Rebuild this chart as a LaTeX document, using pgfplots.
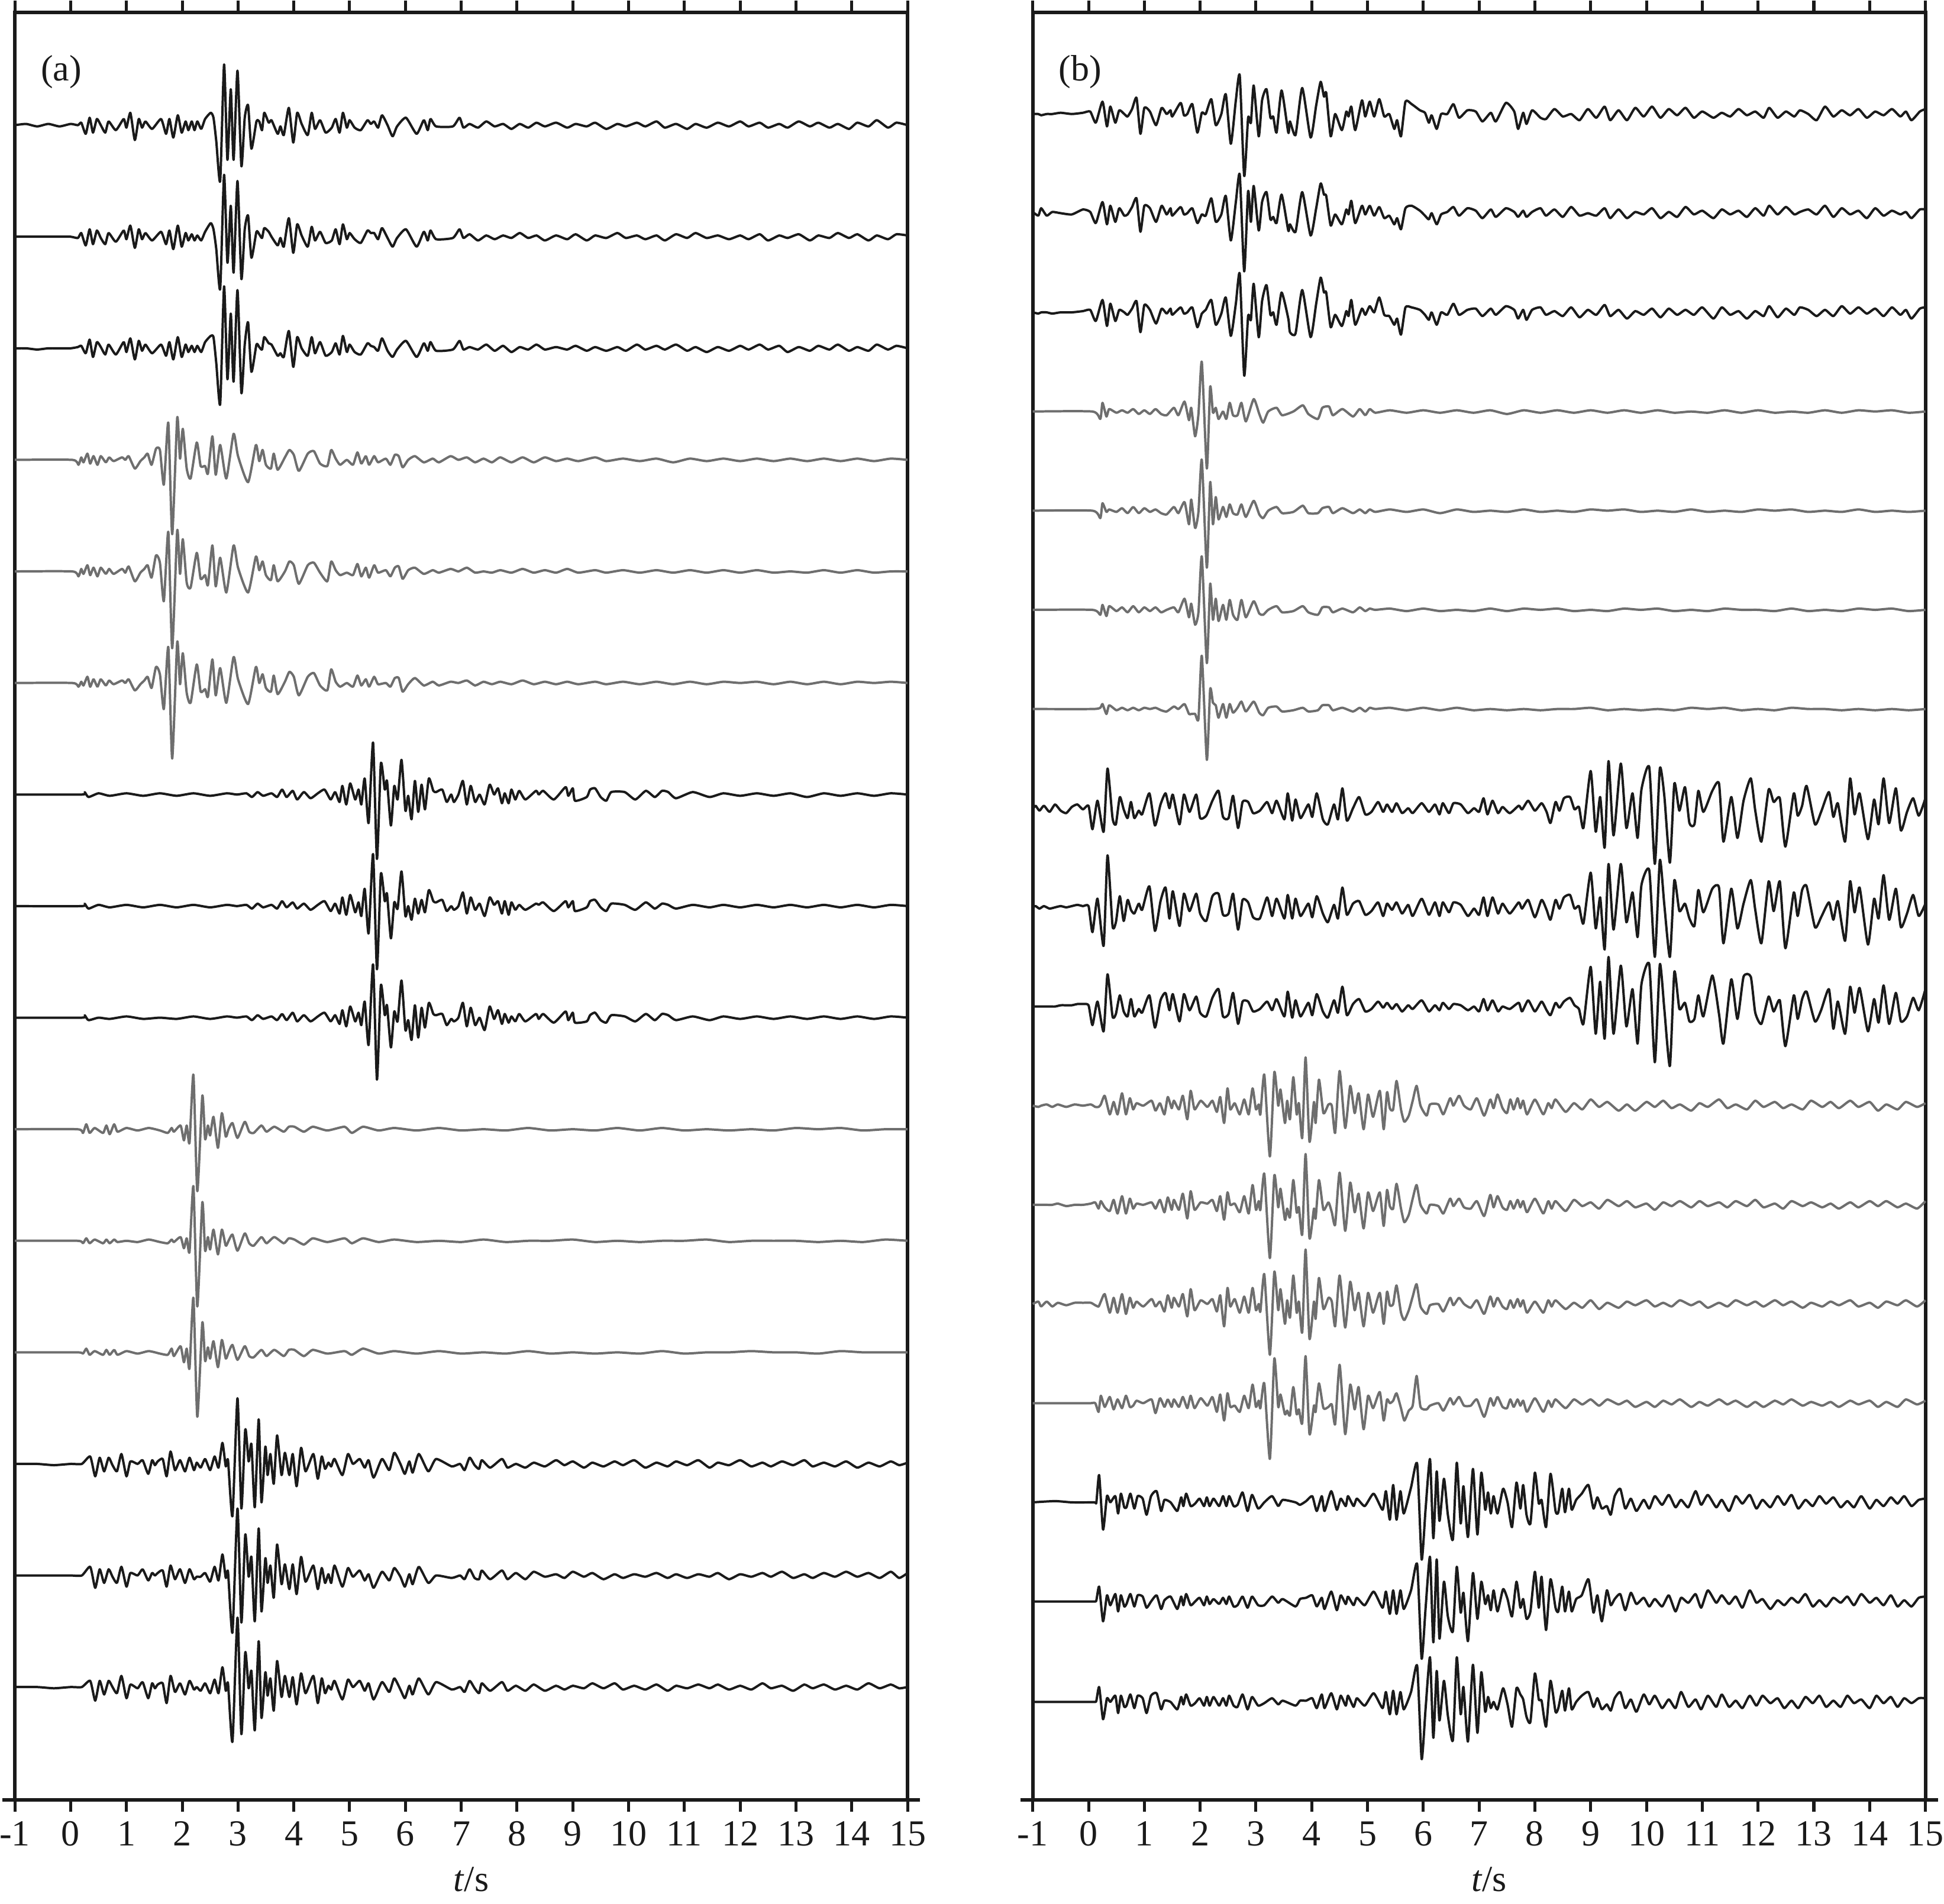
\documentclass[border=0pt]{standalone}
\usepackage{fontspec}
\setmainfont{Liberation Serif}
\usepackage{pgfplots}
\usepackage{pgfplotstable}
\pgfplotsset{compat=1.18}
\definecolor{ink}{HTML}{1A1A1A}
\definecolor{grey}{HTML}{6E6E6E}

% amplitudes in the same units as the y axis, baseline of each trace added when plotted
\pgfplotstableread{
t a b c
-1 0 0 0
-0.8 1 0 0
-0.6 -1 0 -1
-0.4 1 0 0
-0.2 -1 0 0
0 1 0 0
0.13 0 -1 1
0.19 2 3 2
0.27 -7 -7 -4
0.34 6 6 7
0.4 -6 -6 -7
0.47 5 5 5
0.54 0 -1 1
0.62 -6 -6 -5
0.68 3 3 3
0.81 -4 -4 -5
0.95 5 5 5
1 -2 -2 -3
1.07 10 9 8
1.15 -12 -9 -9
1.22 5 6 6
1.28 -2 -2 -2
1.34 3 3 3
1.46 -3 -3 -4
1.62 5 4 3
1.71 -7 -6 -6
1.77 5 5 5
1.84 -10 -10 -9
1.92 8 9 9
1.99 -6 -8 -7
2.06 3 3 3
2.11 -4 -3 -3
2.17 3 2 2
2.22 -4 -3 -3
2.27 3 1 2
2.34 -3 -3 -3
2.41 5 4 5
2.51 10 11 10
2.56 6 6 9
2.61 -13 -10 -12
2.68 -45 -42 -45
2.75 49 50 50
2.81 -28 -21 -25
2.87 29 25 28
2.92 -28 -29 -27
2.99 44 45 47
3.06 -33 -34 -36
3.12 6 6 3
3.18 16 17 21
3.24 -19 -17 -19
3.33 3 4 3
3.38 3 2 1
3.43 -4 -1 -1
3.47 10 7 9
3.55 2 4 4
3.6 4 0 3
3.71 -7 -7 -6
3.76 -1 -1 -4
3.82 -8 -8 -7
3.91 14 15 14
3.99 -14 -13 -15
4.06 10 10 9
4.14 1 1 0
4.25 -8 -8 -6
4.32 10 8 9
4.38 -3 -3 -4
4.47 4 4 5
4.57 -6 -5 -6
4.68 -2 -3 -3
4.75 5 6 4
4.82 -6 -6 -5
4.88 10 10 10
4.95 -2 -2 -3
5 4 3 3
5.09 -2 -2 -3
5.2 -4 -5 -5
5.32 4 5 4
5.38 1 3 2
5.44 3 3 1
5.51 -2 -2 -2
5.58 8 7 8
5.68 0 -1 -2
5.77 -9 -8 -7
5.85 -1 -1 -1
6.01 6 6 6
6.2 -7 -8 -7
6.33 4 4 4
6.4 -4 -3 -2
6.45 5 5 5
6.55 -1 -2 -2
6.85 -1 -1 -1
6.97 6 6 6
7.04 -2 -1 -1
7.15 1 2 1
7.3 -2 -3 -1
7.45 3 1 3
7.6 -1 -2 -2
7.75 1 1 2
7.9 -3 -1 -3
8.05 1 3 1
8.2 -2 -1 -1
8.35 2 1 3
8.5 -1 -3 -1
8.7 2 1 1
8.9 -2 -2 -1
9.05 1 2 2
9.25 -1 -3 -2
9.4 2 1 1
9.6 -3 -1 -2
9.8 1 3 1
9.95 -1 -1 -2
10.15 2 1 3
10.3 -1 -2 -1
10.5 3 1 2
10.65 -2 -3 -1
10.85 1 2 3
11.05 -3 -1 -2
11.2 1 3 1
11.4 -2 -1 -3
11.6 2 1 1
11.8 -1 -2 -2
12 3 1 2
12.15 -1 -2 -1
12.35 2 2 3
12.5 -2 -3 -1
12.7 1 1 2
12.85 -2 -1 -3
13.05 3 2 1
13.25 -1 -3 -2
13.4 2 1 2
13.6 -2 -1 -1
13.75 1 3 3
13.95 -3 -1 -2
14.1 2 2 1
14.3 -1 -3 -2
14.45 4 1 3
14.65 -2 -2 -1
14.8 2 2 2
15 0 1 0
}\LA

\pgfplotstableread{
t a b c
-1 0 0 0
0.03 0 0 0
0.14 -4 -4 -3
0.19 2 2 1
0.23 -2 -2 -2
0.3 5 5 5
0.35 -3 -3 -3
0.41 3 3 3
0.48 -4 -4 -3
0.54 3 3 3
0.63 -2 -2 -2
0.69 2 2 2
0.77 -1 -2 -1
0.92 2 2 2
0.98 0 -1 0
1.04 3 4 3
1.15 -7 -8 -6
1.25 -1 -1 -1
1.32 2 2 2
1.38 5 5 5
1.45 -4 -5 -4
1.53 9 13 13
1.6 8 7 7
1.67 -20 -24 -21
1.75 30 32 29
1.82 -60 -62 -61
1.91 34 33 33
1.96 1 -2 -1
2.01 25 26 24
2.08 -7 -9 -8
2.15 -15 -13 -16
2.26 14 15 15
2.33 -5 -6 -7
2.41 -5 -3 -5
2.46 -11 -11 -11
2.54 19 21 19
2.6 -12 -12 -10
2.68 12 11 12
2.79 -15 -17 -16
2.92 21 21 21
3 3 3 3
3.18 -18 -17 -17
3.32 12 12 13
3.38 -1 1 0
3.44 8 8 7
3.5 -4 -3 -4
3.59 -7 -7 -7
3.64 5 5 6
3.71 -8 -8 -9
3.84 2 0 1
3.92 8 8 9
4 4 5 5
4.09 -9 -10 -10
4.25 5 5 5
4.36 7 7 8
4.47 -3 -1 -2
4.6 -5 -8 -6
4.67 8 8 11
4.75 1 1 1
4.83 -4 -3 -3
4.95 0 -1 0
5.06 -4 -3 -3
5.14 6 6 6
5.21 -3 -4 -2
5.29 3 3 3
5.35 -4 -5 -3
5.44 3 5 5
5.51 -2 -1 -1
5.65 1 1 0
5.73 -4 -4 -3
5.81 4 3 4
5.88 3 4 4
5.95 -6 -6 -7
6.05 0 1 -1
6.17 3 3 4
6.33 -2 -2 -2
6.49 1 1 1
6.6 -2 -1 -2
6.81 3 2 1
6.95 0 0 0
7.1 2 3 2
7.25 -2 -1 -2
7.4 1 0 1
7.55 -2 -1 -1
7.7 2 1 1
7.9 -2 -1 -1
8.1 2 2 2
8.3 -2 -1 -1
8.5 2 1 1
8.7 -1 -1 -1
8.9 1 2 1
9.1 -1 -1 -1
9.4 2 1 1
9.6 -1 -1 -1
9.9 1 1 1
10.2 -1 -1 -1
10.5 1 1 1
10.8 -2 -1 -1
11.1 1 1 1
11.4 -1 -1 -1
11.7 1 1 1
12 -1 -1 0
12.3 1 1 1
12.6 -1 -1 -1
12.9 1 0 1
13.2 -1 -1 -1
13.5 1 1 1
13.8 -1 -1 -1
14.1 1 1 1
14.4 -1 -1 0
14.7 1 0 1
15 0 0 0
}\LB

\pgfplotstableread{
t a b c
-1 0 0 0
0.2 0 0 0
0.25 2 2 2
0.32 -2 -2 -2
0.5 1 1 0
0.7 -1 -1 -1
1 1 1 1
1.3 -1 -1 -1
1.6 1 1 0
1.9 -1 -1 -1
2.2 1 1 1
2.5 -1 -1 -1
2.8 1 1 1
2.98 0 0 0
3.15 1 1 1
3.25 -2 -2 -2
3.35 2 2 2
3.45 -1 -1 -1
3.6 1 1 1
3.7 -2 -2 -2
3.79 4 4 3
3.87 -2 -1 -2
3.98 3 3 4
4.06 -4 -2 -3
4.18 2 2 2
4.3 -3 -3 -3
4.43 1 1 1
4.55 4 4 4
4.66 -4 -4 -3
4.74 2 2 2
4.82 -6 -6 -5
4.87 7 7 6
4.94 -8 -7 -7
5.01 9 9 9
5.1 -4 -5 -3
5.16 4 3 4
5.21 -8 -8 -6
5.27 13 14 13
5.34 -23 -22 -22
5.42 42 42 43
5.49 -52 -51 -50
5.56 25 26 26
5.63 4 4 2
5.67 11 10 10
5.74 -25 -26 -24
5.8 7 3 5
5.86 -4 -2 -3
5.93 28 28 30
6 -13 -8 -10
6.05 -1 0 -2
6.11 -20 -11 -18
6.17 11 6 10
6.23 -14 -6 -16
6.29 8 5 8
6.35 -12 -5 -8
6.42 13 13 12
6.5 3 4 3
6.55 2 3 2
6.66 4 5 3
6.74 -6 -4 -6
6.82 0 0 -1
6.87 -6 -3 -3
6.95 0 0 0
7.03 11 11 12
7.1 -8 -6 -7
7.17 7 7 8
7.25 -6 -3 -6
7.33 0 2 0
7.42 -8 -8 -10
7.51 8 7 9
7.59 0 1 -1
7.66 5 4 6
7.73 -7 -6 -5
7.78 1 4 3
7.85 -7 -7 -4
7.9 4 3 1
7.97 -4 -3 -3
8.04 3 1 3
8.15 -4 -3 -3
8.34 3 2 3
8.39 0 1 -1
8.47 3 3 3
8.66 -4 -4 -4
8.87 6 4 5
8.92 -1 -1 -2
9 5 4 4
9.04 -5 -4 -4
9.25 -2 -1 -3
9.31 4 4 2
9.4 5 5 4
9.5 -2 -1 -2
9.6 -5 -4 -4
9.69 2 2 2
9.93 2 1 1
10.12 -4 -3 -3
10.31 3 3 3
10.47 -2 -2 -2
10.6 3 2 3
10.71 2 1 2
10.85 -3 -2 -2
11.15 2 1 1
11.45 -2 -1 -2
11.7 1 1 1
12 -1 -1 -1
12.3 1 1 1
12.6 -1 -1 -1
12.9 1 1 1
13.2 -2 -1 -1
13.5 1 1 1
13.8 -1 -1 -1
14.1 1 1 1
14.4 -1 -1 -1
14.7 1 1 1
15 0 0 0
}\LC

\pgfplotstableread{
t a b c
-1 0 0 0
0.12 0 0 0
0.22 -3 -2 -1
0.28 4 2 3
0.34 -3 -2 -2
0.43 1 1 1
0.58 -3 -2 -2
0.64 3 1 2
0.7 -4 -2 -2
0.78 4 1 2
0.84 -2 -1 -2
1 1 0 1
1.2 -1 -1 -1
1.4 1 1 1
1.6 -1 -1 -1
1.74 -3 -2 -2
1.81 1 1 3
1.85 -2 -1 -3
1.97 3 3 5
2.03 -9 -6 -8
2.08 3 2 3
2.13 -11 -9 -13
2.2 44 44 44
2.27 -50 -53 -52
2.36 27 31 24
2.41 -8 -8 -7
2.46 3 3 4
2.5 -5 -7 -5
2.56 10 9 9
2.64 -15 -11 -12
2.71 13 9 10
2.78 -6 -4 -5
2.83 0 0 0
2.9 5 5 6
2.99 -7 -8 -6
3.12 6 6 5
3.2 -2 -2 -3
3.28 -3 -4 -4
3.42 3 3 2
3.51 -2 -2 -3
3.65 2 3 2
3.82 -2 -2 -3
3.91 2 2 2
4.01 2 1 2
4.18 -2 -3 -3
4.34 2 2 2
4.6 -1 -1 -1
4.91 2 2 1
5.04 -3 -2 -2
5.24 2 2 3
5.52 -1 -1 -1
5.8 1 1 1
6.2 -1 -1 -1
6.6 1 0 1
7 -1 -1 -1
7.4 0 1 0
7.8 -1 -1 -1
8.2 1 0 1
8.6 -1 0 -1
9 0 1 0
9.4 -1 -1 -1
9.8 1 0 0
10.2 -1 -1 -1
10.6 1 0 1
11 -1 0 -1
11.4 0 1 0
11.8 -1 -1 0
12.2 0 0 1
12.6 -1 0 0
13 1 0 0
13.4 0 -1 -1
13.8 1 0 1
14.2 -1 -1 0
14.6 0 1 0
15 0 0 0
}\LD

\pgfplotstableread{
t a b c
-1 0 0 0
-0.6 0 0 0
-0.3 -1 0 -1
0 0 0 0
0.2 0 0 0
0.35 6 7 5
0.44 -10 -10 -11
0.52 5 5 5
0.6 -6 -6 -6
0.68 5 5 5
0.75 -1 -1 0
0.83 -6 -6 -5
0.91 8 7 9
1 -10 -9 -9
1.07 2 2 2
1.2 0 0 -1
1.29 3 5 4
1.39 -8 -4 -9
1.46 3 2 3
1.51 -1 0 -1
1.56 2 2 2
1.65 4 4 3
1.72 -10 -9 -13
1.79 10 8 9
1.87 -5 -3 -4
1.96 3 5 3
2.05 -6 -6 -6
2.13 5 5 5
2.21 -5 -3 -2
2.26 1 -1 0
2.33 -3 -1 -3
2.41 4 2 3
2.5 -5 -5 -5
2.58 6 7 6
2.65 -3 -4 -5
2.72 17 17 16
2.78 -2 -2 -3
2.82 3 3 3
2.9 -42 -46 -44
2.99 53 54 56
3.06 -36 -38 -38
3.13 28 33 28
3.19 2 -1 -1
3.24 16 15 13
3.3 -35 -37 -35
3.37 36 38 37
3.42 -31 -29 -25
3.49 14 14 12
3.53 -9 -6 -7
3.58 8 8 7
3.64 -16 -18 -19
3.7 23 25 21
3.78 -9 -7 -8
3.84 9 9 9
3.92 -9 -11 -8
3.98 8 9 8
4.05 -18 -15 -14
4.13 13 15 11
4.21 -6 -5 -5
4.35 8 8 9
4.43 -12 -11 -13
4.5 6 6 7
4.56 -4 -6 -5
4.62 1 1 1
4.67 -2 -6 -2
4.73 4 8 5
4.87 -9 -9 -10
4.97 8 6 6
5.06 0 -1 0
5.18 4 4 5
5.27 -3 -4 -3
5.34 3 1 3
5.43 -11 -10 -10
5.58 4 3 4
5.71 -5 -4 -4
5.8 9 6 7
5.91 0 -1 -2
5.99 -8 -9 -9
6.07 2 1 1
6.13 -7 -7 -6
6.24 8 7 7
6.41 -6 -6 -6
6.55 4 0 4
6.83 -2 -2 -2
6.98 0 0 0
7.06 -5 -3 -4
7.15 5 5 5
7.24 -1 -2 -1
7.32 -4 -3 -5
7.37 3 4 3
7.52 -3 -3 -3
7.73 4 4 4
7.83 -3 -3 -3
7.98 0 2 1
8.15 -3 -3 -3
8.3 1 3 2
8.5 -2 -1 -3
8.7 3 1 1
8.85 -1 -2 -2
9 2 3 1
9.2 -3 -1 -1
9.35 1 2 3
9.55 -2 -3 -1
9.75 2 1 3
9.9 -1 -2 -2
10.1 3 1 1
10.3 -3 -1 -2
10.5 1 2 2
10.7 -2 -2 -3
10.85 2 1 1
11.05 -1 -2 -1
11.25 3 1 2
11.45 -3 -1 -1
11.6 1 2 2
11.8 -1 -3 -2
12 3 1 1
12.2 -2 -1 -2
12.4 1 2 3
12.55 -2 -1 -1
12.75 2 3 1
12.95 -1 -2 -3
13.15 3 1 2
13.3 -2 -2 -1
13.5 1 2 2
13.7 -2 -1 -2
13.9 2 3 1
14.1 -3 -1 -2
14.3 1 2 3
14.5 -2 -2 -1
14.7 2 3 2
14.85 -1 -2 -1
15 1 2 0
}\LE

\pgfplotstableread{
t a b c
-1 0 1 0
-0.9 0 -2 -1
-0.85 -1 4 0
-0.75 0 -2 0
-0.65 0 1 -1
-0.5 1 0 0
-0.3 0 -1 0
-0.1 1 3 1
0.03 2 1 2
0.13 -7 -8 -7
0.25 10 9 10
0.33 -10 -9 -11
0.39 6 6 7
0.48 -7 -7 -7
0.55 3 4 2
0.64 0 -2 0
0.7 -2 -1 -2
0.78 4 5 3
0.86 13 12 9
0.93 -16 -15 -16
1 5 6 6
1.1 2 4 2
1.21 -9 -7 -9
1.31 5 6 3
1.4 0 -1 -1
1.47 3 4 3
1.5 -2 -2 -2
1.65 9 5 4
1.71 -1 -1 -1
1.77 0 0 0
1.86 8 4 4
1.95 -15 -8 -12
2.03 1 -1 -1
2.1 0 -2 2
2.2 12 12 10
2.28 -9 -7 -10
2.38 0 -1 -1
2.46 16 14 12
2.55 -24 -22 -19
2.64 11 9 7
2.71 31 31 31
2.79 -50 -47 -51
2.86 -3 18 -3
2.91 -7 -7 -6
2.96 23 22 23
3.05 -18 -14 -20
3.11 11 9 9
3.19 20 17 22
3.26 -3 -5 -2
3.31 -2 -3 0
3.37 -15 -8 -10
3.46 19 15 16
3.58 -15 -14 -5
3.61 -6 -9 -16
3.71 -17 -15 -17
3.83 21 17 18
3.98 -19 -18 -20
4.08 7 4 7
4.16 26 24 28
4.22 14 15 16
4.26 17 14 16
4.34 -18 -10 -12
4.42 0 -1 -2
4.54 -13 -9 -11
4.62 2 3 1
4.66 -2 -1 -3
4.71 6 10 10
4.78 -13 -8 -10
4.9 11 6 3
4.96 -2 -1 -2
5.04 10 6 5
5.12 -2 -2 0
5.21 12 5 12
5.3 -2 -4 -2
5.39 0 -2 -3
5.48 -12 -9 -10
5.53 -5 -4 -5
5.6 -18 -13 -18
5.68 10 4 4
5.79 8 6 4
5.94 3 2 2
6.03 1 -2 -2
6.1 -7 -5 -6
6.15 -1 0 0
6.24 -12 -9 -10
6.32 0 -1 0
6.43 0 1 -2
6.54 8 5 7
6.64 -3 -2 -2
6.79 3 4 2
6.94 2 2 3
7.06 -6 -4 -3
7.21 1 3 3
7.3 -6 -3 -2
7.48 9 4 5
7.63 2 1 2
7.7 -12 -3 -5
7.79 1 2 2
7.85 -8 -3 -6
7.95 3 1 2
8.1 -3 4 4
8.2 -4 -2 -2
8.35 4 3 1
8.5 -2 -3 -3
8.65 0 5 4
8.8 -5 -2 -4
8.95 4 0 2
9.1 -3 -2 -2
9.25 6 4 6
9.35 -5 -4 -3
9.5 3 3 2
9.65 -5 -4 -5
9.8 5 1 1
9.95 -2 -1 -2
10.1 6 4 3
10.25 -3 -4 -4
10.4 4 1 3
10.55 -1 -3 -2
10.7 5 5 2
10.85 -3 -1 -2
11 2 2 4
11.2 -3 -4 -5
11.35 1 3 4
11.5 -2 -1 -2
11.65 4 2 1
11.8 -1 -3 -5
11.95 2 4 1
12.1 -3 -2 -3
12.2 5 6 5
12.35 -3 -1 -4
12.5 2 5 3
12.65 -2 -1 -2
12.75 3 1 4
12.9 0 3 2
13.05 -5 -1 -3
13.2 6 6 2
13.35 -2 -3 -3
13.5 3 4 5
13.65 -1 -1 -1
13.8 4 2 4
13.95 -3 -4 -1
14.1 2 4 3
14.25 -1 -2 -3
14.4 4 2 4
14.55 -2 -1 -2
14.65 2 1 2
14.75 -5 -4 -5
14.9 2 3 3
15 4 3 4
}\RA

\pgfplotstableread{
t a b c d
-1 0 0 0 0
0.07 0 0 0 0
0.21 -6 -6 -4 1
0.25 7 6 4 4
0.32 -4 -1 -5 -4
0.37 2 1 3 3
0.5 -1 -1 -1 -1
0.6 1 2 2 1
0.7 -1 -2 -2 -1
0.8 2 3 3 1
0.9 -2 -2 -2 -1
1 1 2 2 1
1.1 -2 -1 -1 0
1.2 2 1 2 1
1.3 -2 -2 -2 -1
1.4 -3 -3 0 -2
1.53 3 3 2 2
1.61 -3 -2 -2 0
1.72 8 7 9 4
1.8 -7 -11 -6 -4
1.84 3 9 5 -4
1.91 -20 -14 -12 -4
1.97 -2 -1 -2 -8
2.03 40 41 43 43
2.12 -46 -46 -43 -41
2.18 20 23 21 16
2.23 -1 -11 -8 5
2.28 3 11 9 3
2.33 -6 -7 -9 -7
2.41 0 3 4 4
2.47 -6 -5 -8 -7
2.53 7 5 8 4
2.59 -3 -2 -4 -3
2.67 -3 -3 -8 1
2.74 7 5 8 6
2.82 -8 -5 -6 -2
2.96 10 8 7 6
3.06 -2 -3 -3 -3
3.13 -9 -6 -4 -5
3.22 0 0 0 1
3.37 3 3 3 2
3.47 -3 -2 -2 -2
3.67 0 -1 -1 -1
3.84 5 4 3 1
3.94 -2 -2 -2 -2
4.11 -6 -2 -4 -1
4.19 3 2 2 3
4.31 4 3 2 3
4.38 -3 -2 -2 -1
4.55 2 2 1 1
4.74 -4 -2 -2 -2
4.86 2 1 2 1
4.96 -3 -2 -1 -2
5.04 2 1 1 1
5.14 -1 -1 0 0
5.4 1 1 1 1
5.7 -1 -1 -1 -1
6 1 1 1 1
6.3 -1 -2 -1 -1
6.6 1 1 0 1
6.9 -1 -1 -1 -1
7.2 1 0 1 0
7.5 -2 -1 -1 -1
7.8 1 1 1 0
8.1 -1 -1 0 -1
8.4 1 0 1 0
8.7 -1 -1 -1 0
9 1 1 0 1
9.3 -1 0 -1 -1
9.6 1 1 1 0
9.9 -1 -1 0 -1
10.2 1 0 1 0
10.5 -1 -1 -1 -1
10.8 0 1 0 1
11.1 -1 -1 -1 0
11.4 1 0 1 1
11.7 -1 -1 0 -1
12 1 1 0 0
12.3 -1 0 -1 -1
12.6 0 1 1 1
12.9 -1 -1 -1 0
13.2 1 0 0 0
13.5 -1 -1 -1 -1
13.8 1 1 1 0
14.1 0 -1 0 -1
14.4 1 0 1 0
14.7 -1 -1 -1 -1
15 0 0 0 0
}\RB

\pgfplotstableread{
t a b c
-1 -1 0 0
-0.95 2 1 0
-0.88 -2 -1 0
-0.8 2 1 0
-0.7 -3 -1 0
-0.6 3 0 0
-0.5 -2 1 1
-0.4 -4 0 1
-0.3 1 1 1
-0.2 3 2 2
-0.1 -1 1 2
0 2 1 1
0.07 -17 -20 -15
0.16 6 7 4
0.27 -19 -31 -20
0.34 32 42 26
0.43 -8 -15 -8
0.49 -13 -12 -6
0.56 9 9 9
0.63 -1 -11 -4
0.7 -8 6 -8
0.76 5 -2 6
0.82 -8 -5 -8
0.9 -2 3 -2
0.96 -5 -2 -5
1.09 12 17 9
1.19 -14 -19 -17
1.29 3 5 5
1.38 12 16 11
1.45 0 -9 -3
1.51 11 13 10
1.63 -13 -15 -12
1.71 11 11 10
1.81 -3 -3 -3
1.93 11 11 8
2 -8 -5 -5
2.11 -6 -11 -8
2.22 6 9 7
2.33 14 11 14
2.41 -7 -6 -8
2.51 -8 -5 -6
2.59 10 11 11
2.68 -16 -18 -14
2.76 5 6 4
2.86 5 4 4
2.95 -4 -8 -4
3.07 -2 -9 -2
3.2 5 8 4
3.29 -4 -7 -3
3.37 6 7 6
3.51 -9 -9 -8
3.57 12 10 12
3.65 -10 -9 -9
3.71 7 7 5
3.8 -8 -7 -8
3.94 3 3 3
4.01 -7 -8 -7
4.09 12 9 10
4.2 -9 -5 -4
4.29 -13 -12 -9
4.4 3 2 5
4.47 -9 -9 -5
4.55 16 16 16
4.63 -10 -6 -7
4.74 0 3 2
4.85 9 5 6
4.96 -5 -6 -4
5.07 -3 -3 -2
5.19 5 4 4
5.28 -3 -7 -1
5.35 3 3 3
5.44 -3 -2 -2
5.52 4 4 2
5.62 -4 -5 -4
5.73 0 2 1
5.81 -4 -7 -2
5.97 4 7 5
6.1 -3 -6 -4
6.21 3 4 1
6.29 -5 -7 -3
6.35 4 4 3
6.46 -4 -4 -2
6.54 4 4 2
6.67 3 2 1
6.8 -4 -7 -3
6.91 0 -1 0
7 -3 -6 -4
7.08 8 8 6
7.15 -5 -7 -3
7.24 6 8 5
7.34 -4 -5 -4
7.42 1 3 0
7.55 -4 -5 -2
7.71 2 4 3
7.77 -1 -1 -4
7.88 6 6 5
8 -2 -8 -4
8.12 4 6 4
8.21 -3 -2 -3
8.28 -12 -10 -7
8.37 5 6 3
8.44 -2 -1 -1
8.52 8 8 4
8.63 9 10 7
8.71 -1 -1 1
8.79 1 1 -2
8.87 -16 -13 -14
9 30 28 32
9.09 -19 -17 -22
9.17 9 8 20
9.25 -32 -34 -26
9.32 38 35 40
9.41 -22 -18 -22
9.54 36 35 33
9.64 -16 -12 -16
9.75 12 12 14
9.84 -24 -24 -30
9.91 15 18 18
10.05 33 30 34
10.15 -45 -40 -45
10.24 32 38 34
10.32 10 2 -2
10.42 -44 -40 -48
10.5 20 22 28
10.59 -2 -3 -2
10.69 17 3 3
10.77 -12 -9 -12
10.86 -13 -15 -10
10.93 14 14 9
11.02 -3 -4 -8
11.18 14 15 25
11.3 20 16 -6
11.38 -27 -29 -30
11.52 9 15 22
11.63 -24 -17 -10
11.74 6 3 24
11.87 24 22 24
11.95 -2 -2 -5
12.06 -27 -29 -14
12.19 15 21 8
12.28 5 -3 -4
12.39 8 21 5
12.49 -31 -33 -32
12.64 12 12 9
12.71 -6 -7 -10
12.79 2 14 6
12.87 18 17 12
13.02 -13 -16 -12
13.13 -3 -8 -3
13.27 13 4 14
13.35 -7 -10 -18
13.43 4 5 4
13.56 -27 -27 -22
13.65 24 21 16
13.73 -5 -4 -5
13.82 12 16 15
13.97 -25 -30 -20
14.08 7 7 6
14.16 -13 -9 -13
14.25 24 26 17
14.35 -12 -10 -14
14.47 16 15 11
14.56 -18 -16 -12
14.67 -3 -5 -8
14.78 8 10 7
14.88 -6 -7 -3
15 8 3 14
}\RC

\pgfplotstableread{
t a b c d
-1 0 0 0 0
-0.9 -1 0 2 0
-0.85 0 0 -2 0
-0.75 1 0 2 0
-0.65 -1 0 -2 0
-0.55 1 1 1 0
-0.4 -1 -1 -1 0
-0.25 1 0 1 0
-0.1 0 0 1 0
0.04 1 1 1 0
0.12 -1 2 -1 0
0.18 -1 -3 -2 -7
0.22 1 3 2 6
0.29 8 -2 8 -3
0.38 -7 -5 -7 5
0.45 3 4 5 -5
0.52 -7 -7 -7 3
0.6 10 7 8 -4
0.67 -7 -7 -8 6
0.74 6 5 5 -3
0.8 -3 -3 -3 -2
0.86 2 1 2 2
0.98 0 0 -2 0
1.13 4 2 4 3
1.2 -4 -3 -2 -8
1.28 2 4 2 4
1.36 -7 -6 -6 -3
1.42 7 6 7 3
1.49 -2 -4 -3 -3
1.53 4 4 5 3
1.62 -3 -4 -2 -3
1.69 8 9 8 5
1.77 -11 -11 -10 -4
1.83 12 11 12 6
1.9 -3 -4 -5 -4
2.01 4 2 3 4
2.13 -1 1 0 -2
2.22 4 4 4 5
2.3 -5 -5 -6 -7
2.36 7 7 7 7
2.43 -14 -12 -18 -14
2.49 14 10 13 8
2.54 -3 0 -2 -3
2.62 2 1 4 -2
2.71 -7 -6 -7 -7
2.79 5 7 6 6
2.87 -7 -7 -7 -4
2.94 14 16 13 15
3 -3 -4 -5 -3
3.05 1 3 0 2
3.08 -7 -4 -6 -4
3.15 25 25 24 16
3.25 -41 -43 -41 -45
3.33 27 24 26 36
3.4 0 -2 -5 -3
3.44 13 13 12 7
3.52 -14 -12 -16 -9
3.56 4 -3 3 -6
3.61 -11 -10 -11 -10
3.67 23 20 23 13
3.73 -7 -6 -7 -9
3.77 2 -2 2 -5
3.83 -26 -24 -23 -16
3.89 39 41 44 38
3.96 -29 -27 -28 -25
4.04 3 -3 2 -2
4.07 -14 -11 -12 -7
4.13 21 20 21 16
4.21 -6 -4 -4 -4
4.3 1 2 5 -3
4.36 0 -6 2 -1
4.42 -22 -16 -18 -17
4.5 28 26 23 31
4.6 -18 -21 -19 -25
4.69 16 18 18 15
4.77 -6 -6 -5 -5
4.84 10 9 9 13
4.93 -19 -19 -18 -21
5.01 9 10 9 6
5.1 -9 -5 -7 -4
5.22 12 10 9 9
5.29 -19 -17 -16 -14
5.35 11 12 10 3
5.4 -2 -1 -1 0
5.46 -3 -3 0 2
5.52 20 17 15 8
5.6 -3 -3 -7 -4
5.66 -13 -14 -13 -14
5.74 -8 -8 -5 -6
5.81 4 5 6 -2
5.88 16 16 16 22
5.95 0 0 -2 -3
6.06 -8 -7 -8 -5
6.12 1 0 -1 -2
6.27 1 -1 0 0
6.36 -7 -7 -6 -6
6.48 6 5 5 4
6.54 0 -1 -1 -1
6.64 8 5 5 5
6.73 0 -2 0 -2
6.85 -3 -3 -3 -2
6.96 6 3 3 3
7.09 -8 -9 -8 -11
7.2 5 8 6 4
7.26 -2 -2 -2 -2
7.33 9 7 5 5
7.42 -2 -2 -2 -3
7.5 -6 -4 -4 -4
7.56 5 3 3 3
7.62 -3 -3 -3 -3
7.69 6 4 4 3
7.74 -2 -2 -2 -2
7.79 4 3 3 2
7.86 -7 -6 -7 -7
8 5 5 2 4
8.15 -7 -7 -7 -7
8.24 2 3 3 2
8.3 -2 -3 -2 -3
8.37 5 3 3 3
8.55 -5 -5 -4 -4
8.7 2 4 1 3
8.85 -3 -1 -3 -1
9 5 2 3 3
9.15 -1 -3 -4 -2
9.3 3 4 1 3
9.5 -4 -1 -3 -1
9.65 1 3 2 2
9.8 -4 -2 -1 -3
10 3 1 3 1
10.15 -1 -4 -2 -3
10.3 4 2 1 2
10.45 -2 -1 -2 -1
10.6 1 3 3 3
10.8 -4 -2 -1 -3
10.95 2 3 2 1
11.1 -1 -1 -3 -2
11.3 5 2 1 3
11.45 -2 -2 -2 -1
11.6 1 3 3 2
11.8 -3 -1 -1 -3
11.95 4 4 2 1
12.1 -1 -2 -2 -3
12.3 3 1 3 2
12.45 -2 -3 -1 -1
12.6 1 3 2 3
12.8 -3 -1 -3 -2
12.95 4 2 1 1
13.15 -1 -2 -2 -2
13.3 3 1 2 1
13.45 -2 -3 -1 -3
13.65 4 2 3 2
13.8 -1 -2 -2 -1
14 3 3 1 2
14.15 -4 -1 -3 -3
14.3 1 3 2 1
14.5 -3 -2 -1 -3
14.65 3 1 3 3
14.85 -1 -3 -2 -1
15 2 3 3 2
}\RD

\pgfplotstableread{
t a b c
-1 0 0 0
-0.6 1 0 0
-0.3 0 0 0
0.1 0 0 0
0.14 0 1 1
0.19 22 12 12
0.26 -22 -16 -14
0.33 5 5 3
0.39 0 -3 0
0.48 5 6 5
0.53 -9 -8 -9
0.58 7 5 5
0.64 -4 -4 -4
0.68 -4 -2 -3
0.75 7 6 6
0.82 -5 -4 -5
0.88 5 5 5
0.97 3 4 3
1.04 -10 -5 -9
1.12 5 0 5
1.22 9 5 7
1.3 -7 -6 -6
1.36 2 1 1
1.47 0 4 0
1.59 -7 -6 -6
1.66 4 4 4
1.7 -3 -3 -2
1.75 7 6 6
1.83 -3 -3 -3
1.91 -1 0 -1
1.99 3 3 3
2.07 -3 -3 -3
2.12 4 4 4
2.17 -3 -2 -3
2.24 3 2 4
2.34 -3 -2 -3
2.41 5 3 3
2.47 -3 -2 -3
2.52 5 4 5
2.6 -3 -4 -3
2.67 -2 -3 -4
2.76 8 4 6
2.85 -7 -5 -6
2.93 6 4 4
3.04 -5 -3 -3
3.15 0 -3 -1
3.29 5 4 3
3.4 -3 -1 -2
3.48 2 2 1
3.71 0 -4 -3
3.79 -2 2 1
3.9 1 3 1
4.01 5 5 3
4.09 -7 -4 -5
4.18 5 3 6
4.23 -7 -6 -5
4.35 9 8 7
4.45 -6 -7 -6
4.52 3 5 5
4.61 -3 -2 -3
4.65 5 4 5
4.75 -3 -3 -4
4.81 3 3 3
4.95 -3 -3 -3
5.11 7 8 7
5.27 -6 -5 -5
5.33 9 8 8
5.4 -14 -10 -10
5.46 14 9 9
5.52 -14 -10 -10
5.59 9 9 8
5.65 -9 -6 -6
5.78 12 9 8
5.89 31 30 29
5.97 -46 -46 -46
6.04 -6 -6 -6
6.12 35 36 36
6.18 -29 -33 -29
6.24 25 34 25
6.29 -15 -30 -15
6.37 19 16 17
6.44 -10 -12 -11
6.53 -30 -24 -31
6.6 32 28 36
6.67 -17 -9 -10
6.72 13 7 12
6.8 -28 -32 -32
6.89 27 23 30
6.97 -26 -14 -25
7.04 24 16 24
7.11 -6 -2 -8
7.16 8 5 4
7.21 -9 -7 -5
7.26 5 9 0
7.33 -9 -8 -6
7.43 11 10 11
7.51 0 2 -2
7.59 -20 -12 -20
7.67 16 16 11
7.74 -5 -5 6
7.79 14 2 2
7.85 -10 -14 -12
7.92 -17 -8 -16
8 24 24 23
8.07 -1 -5 2
8.12 2 20 1
8.2 -20 -23 -20
8.28 23 18 17
8.37 -7 -5 -8
8.42 -8 -8 -5
8.49 11 12 9
8.54 -8 -8 -7
8.61 11 8 11
8.66 -6 -8 -6
8.74 2 2 0
8.84 7 5 5
8.96 14 18 8
9.05 -5 -9 -4
9.12 4 5 3
9.2 -5 -16 -6
9.29 -3 9 -2
9.36 -10 -3 -7
9.43 5 2 3
9.53 11 6 8
9.62 -5 -7 -5
9.72 3 7 2
9.82 -7 -2 -8
9.95 2 3 6
10.05 -5 -4 -2
10.15 5 2 5
10.28 -2 -4 -5
10.4 6 5 2
10.52 -4 -8 -5
10.62 2 3 8
10.75 -4 -1 -4
10.88 9 6 2
10.98 -2 -5 -6
11.1 6 9 5
11.25 -4 -1 -4
11.35 2 5 6
11.48 -7 -2 -4
11.6 5 4 1
11.72 -1 -5 -5
11.85 6 9 5
11.97 -5 -1 -3
12.08 2 2 5
12.22 -4 -6 -1
12.35 5 1 3
12.47 -2 -3 -5
12.6 6 3 1
12.72 -5 -1 -5
12.85 2 6 4
12.98 -3 -4 -1
13.1 5 1 5
13.22 -1 -4 -4
13.35 4 3 1
13.48 -4 -1 -4
13.6 1 4 5
13.72 -4 -3 -1
13.85 5 6 2
14 -5 -1 -5
14.12 2 3 5
14.25 -3 -3 -1
14.38 4 5 4
14.5 -1 -4 -4
14.62 5 1 3
14.75 -3 -4 -1
14.88 2 3 3
15 3 4 3
}\RE

\pgfplotsset{
  wave/.style={
    scale only axis, width=360pt, height=721pt, clip=false,
    xmin=-1, xmax=15, ymin=1, ymax=1443,
    xtick={-1,0,...,15},
    xticklabels={-1,0,1,2,3,4,5,6,7,8,9,10,11,12,13,14,15},
    ytick=\empty,
    tick align=outside, xtick pos=both, major tick length=4.75pt,
    x tick label style={font=\fontsize{14.8}{15}\selectfont, text=ink, yshift=-0.5pt},
    every tick/.style={ink, line width=1.2pt},
    axis line style={ink, line width=1.4pt},
    tick label style={/pgf/number format/assume math mode=true},
  },
  blk/.style={no markers, smooth, tension=0.35, ink, line width=0.95pt, line join=round},
  gry/.style={no markers, smooth, tension=0.35, grey, line width=0.95pt, line join=round},
}
\newcommand{\trace}[4]{\addplot[#1] table[x=t, y expr=\thisrow{#3}+#4] {#2};}
\newcommand{\panelbits}[1]{%
  \draw[ink, line width=1.4pt] (rel axis cs:-0.0139,0) -- (rel axis cs:1.0139,0);
  \node[anchor=base, font=\fontsize{14.8}{15}\selectfont, text=ink] at (axis description cs:0.5,0) [xshift=4pt, yshift=-37pt] {\textit{t}/s};
  \node[anchor=west, font=\fontsize{14.8}{15}\selectfont, text=ink] at (axis description cs:0,1) [xshift=7pt, yshift=-24pt] {#1};
}

\begin{document}
\begin{tikzpicture}
\useasboundingbox (-6pt,-42pt) rectangle (778pt,726pt);
\begin{axis}[wave, at={(0pt,0pt)}, anchor=south west]
\trace{blk}{\LA}{a}{1352}
\trace{blk}{\LA}{b}{1262}
\trace{blk}{\LA}{c}{1172}
\trace{gry}{\LB}{a}{1082}
\trace{gry}{\LB}{b}{992}
\trace{gry}{\LB}{c}{902}
\trace{blk}{\LC}{a}{812}
\trace{blk}{\LC}{b}{722}
\trace{blk}{\LC}{c}{632}
\trace{gry}{\LD}{a}{542}
\trace{gry}{\LD}{b}{452}
\trace{gry}{\LD}{c}{362}
\trace{blk}{\LE}{a}{272}
\trace{blk}{\LE}{b}{182}
\trace{blk}{\LE}{c}{92}
\panelbits{(a)}
\end{axis}
\begin{axis}[wave, at={(410.5pt,0pt)}, anchor=south west]
\trace{blk}{\RA}{a}{1361}
\trace{blk}{\RA}{b}{1281}
\trace{blk}{\RA}{c}{1201}
\trace{gry}{\RB}{a}{1121}
\trace{gry}{\RB}{b}{1041}
\trace{gry}{\RB}{c}{961}
\trace{gry}{\RB}{d}{881}
\trace{blk}{\RC}{a}{801}
\trace{blk}{\RC}{b}{721}
\trace{blk}{\RC}{c}{641}
\trace{gry}{\RD}{a}{561}
\trace{gry}{\RD}{b}{481}
\trace{gry}{\RD}{c}{401}
\trace{gry}{\RD}{d}{321}
\trace{blk}{\RE}{a}{241}
\trace{blk}{\RE}{b}{161}
\trace{blk}{\RE}{c}{80}
\panelbits{(b)}
\end{axis}
\end{tikzpicture}
\end{document}
